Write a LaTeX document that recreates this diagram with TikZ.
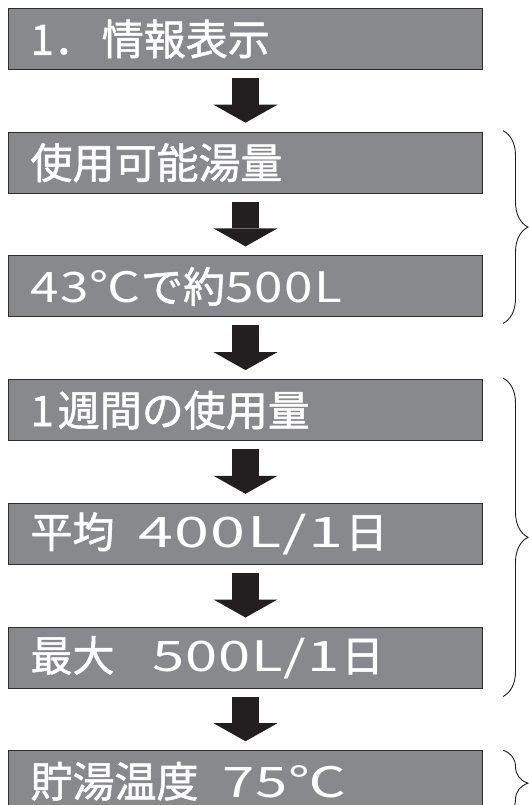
\documentclass[tikz,border=0pt]{standalone}
\usepackage{fontspec}
\usetikzlibrary{arrows.meta,positioning,decorations.pathreplacing}
\newfontfamily\jpfont{Noto Sans CJK JP}[FakeBold=1.2]
\newfontfamily\numfont{Noto Sans CJK JP}[FakeStretch=1.22, LetterSpace=3]
\newfontfamily\widenum{Noto Sans CJK JP}[FakeStretch=1.5, LetterSpace=3]
\newfontfamily\midnum{Noto Sans CJK JP}[FakeStretch=1.38, LetterSpace=2]
\definecolor{boxgray}{RGB}{136,137,140}
\definecolor{boxline}{RGB}{45,45,45}
\definecolor{arrowblack}{RGB}{35,31,32}

\begin{document}
\begin{tikzpicture}[x=1pt, y=-1pt,
  stepbox/.style={rectangle, draw=boxline, fill=boxgray, line width=1pt, text=white,
    font=\jpfont\fontsize{42pt}{48pt}\selectfont, text width=430pt, inner xsep=22pt,
    inner ysep=0pt, minimum height=61pt, align=left},
  flowarrow/.style={arrowblack, line width=27pt,
    -{Triangle[width=64pt, length=18pt, line width=0pt]}, shorten <=8pt, shorten >=9pt},
  bracket/.style={arrowblack, line width=0.9pt, decorate, decoration={brace, amplitude=25pt}}]
\useasboundingbox (0,0) rectangle (528,805);

% Flow of display items
\node[stepbox, anchor=north west] (info) at (8,8) {1．\hspace{6pt}情報表示};
\node[stepbox, below=61.7pt of info] (avail) {使用可能湯量};
\node[stepbox, below=61.7pt of avail] (amount) {{\numfont 43℃}で約{\numfont 500L}};
\node[stepbox, below=61.7pt of amount] (week) {1\hspace{4pt}週間の使用量};
\node[stepbox, below=61.7pt of week] (avg) {平均\hspace{24pt}{\widenum 400L/1}\hspace{2pt}日};
\node[stepbox, below=61.7pt of avg] (max) {最大\hspace{38pt}{\midnum 500L/1}\hspace{2pt}日};
\node[stepbox, below=61.7pt of max] (temp) {貯湯温度\hspace{24pt}{\midnum 75℃}};

% Arrows between the boxes
\draw[flowarrow] (info) -- (avail);
\draw[flowarrow] (avail) -- (amount);
\draw[flowarrow] (amount) -- (week);
\draw[flowarrow] (week) -- (avg);
\draw[flowarrow] (avg) -- (max);
\draw[flowarrow] (max) -- (temp);

% Braces on the right
\draw[bracket] ([xshift=20pt, yshift=1pt]avail.north east) -- ([xshift=20pt, yshift=-6pt]amount.south east);
\draw[bracket] ([xshift=20pt, yshift=1pt]week.north east) -- ([xshift=20pt, yshift=-8pt]max.south east);
\draw[bracket] ([xshift=20pt]temp.north east) -- ([xshift=20pt, yshift=-4pt]temp.south east);
\end{tikzpicture}
\end{document}
